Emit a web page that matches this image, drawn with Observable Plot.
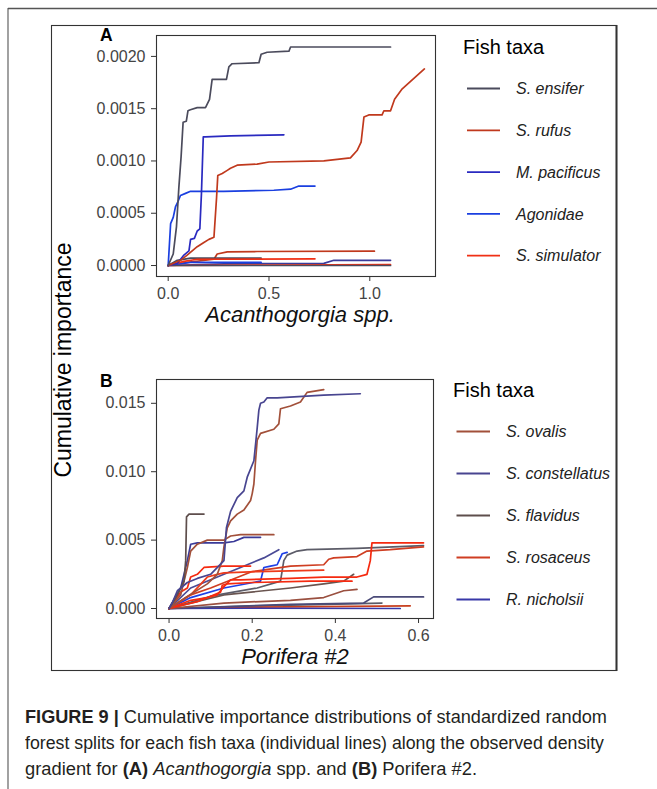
<!DOCTYPE html>
<html><head><meta charset="utf-8">
<script src="https://cdn.jsdelivr.net/npm/d3@7"></script>
<script src="https://cdn.jsdelivr.net/npm/@observablehq/plot@0.6"></script>
<style>
body{margin:0;background:#fff;}
#wrap{position:relative;width:657px;height:789px;overflow:hidden;background:#fff;font-family:"Liberation Sans",Arial,sans-serif;}
.panel{position:absolute;left:0;width:450px;}
#overlay{position:absolute;left:0;top:0;}
.capline{position:absolute;left:25px;white-space:nowrap;font-family:"Liberation Sans",Arial,sans-serif;font-size:17.5px;line-height:20px;color:#231f20;transform-origin:0 0;}
</style></head><body>
<div id="wrap"><div id="pa" class="panel" style="top:25px"></div><div id="pb" class="panel" style="top:360px"></div><svg id="overlay" width="657" height="789"></svg>
<div id="cap1" class="capline" style="top:707px"><b>FIGURE 9 | </b>Cumulative importance distributions of standardized random</div>
<div id="cap2" class="capline" style="top:733px">forest splits for each fish taxa (individual lines) along the observed density</div>
<div id="cap3" class="capline" style="top:759px">gradient for <b>(A)</b> <i>Acanthogorgia</i> spp. and <b>(B)</b> Porifera #2.</div>
</div>
<script>
// ---------- Panel A data: [Acanthogorgia density, cumulative importance] ----------
const A_ensifer = [[0,0],[0.025,0.00011],[0.041,0.00037],[0.053,0.00075],[0.064,0.00104],[0.074,0.00137],[0.09,0.00138],[0.098,0.00148],[0.11,0.00149],[0.144,0.00151],[0.185,0.00151],[0.205,0.00159],[0.218,0.00178],[0.289,0.00178],[0.301,0.0019],[0.317,0.00193],[0.45,0.00194],[0.461,0.00202],[0.491,0.00204],[0.599,0.00205],[0.607,0.00209],[1.103,0.00209]];
const A_rufus = [[0,0],[0.061,0.00005],[0.094,0.0001],[0.144,0.00018],[0.177,0.00022],[0.202,0.00025],[0.227,0.00027],[0.24,0.00065],[0.246,0.00086],[0.268,0.00088],[0.293,0.00091],[0.309,0.00093],[0.342,0.00096],[0.441,0.00097],[0.5,0.00099],[0.772,0.001],[0.904,0.00103],[0.937,0.0011],[0.957,0.00118],[0.971,0.00142],[0.995,0.00144],[1.061,0.00144],[1.07,0.00148],[1.103,0.00148],[1.123,0.00159],[1.161,0.00169],[1.271,0.00188]];
const A_pacificus = [[0,0],[0.045,0.00002],[0.078,0.0001],[0.103,0.00014],[0.111,0.00025],[0.13,0.00026],[0.144,0.00033],[0.157,0.00035],[0.165,0.00069],[0.174,0.00123],[0.185,0.00123],[0.309,0.00124],[0.574,0.00125]];
const A_agonidae = [[0,0],[0.012,0.0004],[0.025,0.00046],[0.036,0.00056],[0.048,0.00061],[0.061,0.00067],[0.086,0.00069],[0.111,0.00071],[0.276,0.00071],[0.524,0.00072],[0.607,0.00073],[0.648,0.00076],[0.728,0.00076]];
const A_simulator = [[0,0],[0.078,0.00004],[0.144,0.00006],[0.728,0.000064]];
const A_other1 = [[0,0],[0.094,0.00003],[0.227,0.00006],[0.243,0.00011],[0.293,0.00013],[0.441,0.000134],[1.023,0.000137]];
const A_other2 = [[0,0],[0.045,0.00005],[0.111,0.00007],[0.461,0.00007]];
const A_other3 = [[0,0],[0.276,0.000016],[0.772,0.00002],[0.822,0.00005],[1.103,0.00005]];
const A_other4 = [[0,0],[0.5,0.000005],[1.103,0.00001]];
const A_other5 = [[0,0],[0.111,0.00003],[0.461,0.00003]];
const A_other6 = [[0,0],[1.103,0]];

const A_legendNames = ["S. ensifer","S. rufus","M. pacificus","Agonidae","S. simulator"];
const A_legendColors = ["#4b4b5c","#c0391d","#2a2ac0","#1a3fe0","#f03015"];
const A_otherIds = ["a6","a7","a8","a9","a10","a11"];
const A_otherColors = ["#c0391d","#4b4b5c","#3a3a9a","#f03015","#1a3fe0","#4b4b5c"];

// ---------- Panel B data: [Porifera #2 density, cumulative importance] ----------
const B_ovalis = [[0,0],[0.04,0.0008],[0.092,0.0018],[0.116,0.0025],[0.128,0.0035],[0.132,0.0045],[0.14,0.0059],[0.148,0.0064],[0.164,0.0069],[0.18,0.0072],[0.196,0.0079],[0.2,0.0084],[0.204,0.0091],[0.208,0.0108],[0.212,0.0123],[0.22,0.0128],[0.252,0.0131],[0.264,0.0135],[0.268,0.0146],[0.292,0.0148],[0.316,0.0151],[0.332,0.0158],[0.372,0.016]];
const B_constellatus = [[0,0],[0.008,0.00044],[0.02,0.0013],[0.044,0.0019],[0.068,0.0022],[0.1,0.0025],[0.132,0.0035],[0.138,0.0059],[0.148,0.0071],[0.164,0.0081],[0.18,0.0086],[0.188,0.0096],[0.204,0.0108],[0.212,0.0132],[0.216,0.0145],[0.22,0.015],[0.228,0.0151],[0.236,0.0154],[0.26,0.0154],[0.372,0.0156],[0.46,0.0157]];
const B_flavidus = [[0,0],[0.012,0.0006],[0.02,0.001],[0.028,0.0015],[0.036,0.002],[0.04,0.0035],[0.042,0.0067],[0.048,0.0069],[0.084,0.0069]];
const B_rosaceus = [[0,0],[0.052,0.001],[0.1,0.0015],[0.2,0.0027],[0.292,0.0031],[0.372,0.0032],[0.384,0.0036],[0.396,0.0037],[0.452,0.0038],[0.476,0.0042],[0.532,0.0043],[0.612,0.0045]];
const B_nicholsii = [[0,0],[0.2,0.00002],[0.556,0]];
const B_other1 = [[0,0],[0.028,0.0015],[0.044,0.0035],[0.052,0.0047],[0.068,0.0048],[0.132,0.0048],[0.156,0.0049],[0.18,0.0052],[0.22,0.0052]];
const B_other2 = [[0,0],[0.028,0.001],[0.044,0.003],[0.052,0.0042],[0.068,0.0047],[0.092,0.005],[0.132,0.005],[0.148,0.0053],[0.172,0.0054],[0.252,0.0054]];
const B_other3 = [[0,0],[0.1,0.0009],[0.212,0.0015],[0.268,0.002],[0.276,0.0035],[0.284,0.0039],[0.308,0.0042],[0.332,0.0043],[0.452,0.0044],[0.612,0.0046]];
const B_other4 = [[0,0],[0.052,0.0006],[0.092,0.0008],[0.116,0.001],[0.132,0.0016],[0.148,0.0021],[0.172,0.0021],[0.292,0.0022],[0.372,0.0023],[0.452,0.0023],[0.476,0.0025],[0.484,0.0035],[0.488,0.0048],[0.612,0.0048]];
const B_other5 = [[0,0],[0.052,0.0008],[0.132,0.0015],[0.22,0.002],[0.228,0.003],[0.244,0.0031],[0.26,0.0032],[0.272,0.004],[0.284,0.0041]];
const B_other6 = [[0,0],[0.052,0.0015],[0.132,0.0025],[0.172,0.003],[0.228,0.0037],[0.264,0.0043]];
const B_other7 = [[0,0],[0.028,0.0012],[0.044,0.0015],[0.052,0.0023],[0.068,0.0025],[0.084,0.003],[0.132,0.0031],[0.196,0.0031]];
const B_other8 = [[0,0],[0.052,0.001],[0.092,0.0023],[0.116,0.0025],[0.132,0.0026],[0.212,0.0027],[0.372,0.0028]];
const B_other9 = [[0,0],[0.132,0.001],[0.292,0.0015],[0.372,0.0018],[0.42,0.002],[0.444,0.0025]];
const B_other10 = [[0,0],[0.132,0.0004],[0.292,0.0006],[0.372,0.0008],[0.42,0.0013],[0.452,0.0014]];
const B_other11 = [[0,0],[0.292,0.0003],[0.468,0.0004],[0.492,0.00085],[0.612,0.00085]];
const B_other12 = [[0,0],[0.212,0.0002],[0.512,0.0004]];
const B_other13 = [[0,0],[0.212,0.0001],[0.58,0.0002]];
const B_other14 = [[0,0],[0.068,0.0005],[0.1,0.0009],[0.124,0.0012],[0.128,0.0017],[0.14,0.0018],[0.2,0.0019],[0.34,0.002],[0.44,0.002]];

const B_legendNames = ["S. ovalis","S. constellatus","S. flavidus","S. rosaceus","R. nicholsii"];
const B_legendColors = ["#a2503a","#484590","#5e4e4c","#cf3e22","#3838a8"];
const B_otherIds = ["b6","b7","b8","b9","b10","b11","b12","b13","b14","b15","b16","b17","b18","b19"];
const B_otherColors = ["#3a3a98","#a2503a","#5c5c68","#f52a10","#1e40e6","#4a4a95","#f52a10","#ee3a1a","#6a5550","#9a5040","#4a4a78","#5c5c68","#c8401e","#f52a10"];

// ---------- Axis ticks ----------
const A_xTicks = [0, 0.5, 1.0];
const A_yTicks = [0, 0.0005, 0.001, 0.0015, 0.002];
const B_xTicks = [0, 0.2, 0.4, 0.6];
const B_yTicks = [0, 0.005, 0.010, 0.015];

const FONT = "'Liberation Sans', Arial, sans-serif";

function toRows(pairs) {
  return pairs.flatMap(([id, pts]) => pts.map(([x, y]) => ({id, x, y})));
}

const aSeries = [[A_otherIds[0],A_other1],[A_otherIds[1],A_other2],[A_otherIds[2],A_other3],[A_otherIds[3],A_other4],[A_otherIds[4],A_other5],[A_otherIds[5],A_other6],
  [A_legendNames[4],A_simulator],[A_legendNames[3],A_agonidae],[A_legendNames[2],A_pacificus],[A_legendNames[1],A_rufus],[A_legendNames[0],A_ensifer]];
const bSeries = [[B_otherIds[11],B_other12],[B_otherIds[12],B_other13],[B_legendNames[4],B_nicholsii],[B_otherIds[10],B_other11],[B_otherIds[9],B_other10],[B_otherIds[8],B_other9],
  [B_otherIds[2],B_other3],[B_legendNames[3],B_rosaceus],[B_otherIds[5],B_other6],[B_otherIds[4],B_other5],[B_otherIds[7],B_other8],[B_otherIds[13],B_other14],[B_otherIds[6],B_other7],[B_otherIds[3],B_other4],
  [B_otherIds[0],B_other1],[B_otherIds[1],B_other2],[B_legendNames[2],B_flavidus],[B_legendNames[0],B_ovalis],[B_legendNames[1],B_constellatus]];

function panel({rows, ids, colors, xDomain, yDomain, xTicks, yTicks, xFmt, yFmt, title, titleDx, titleDy, marginTop, marginRight, marginBottom}) {
  return Plot.plot({
    width: 450, height: 320,
    marginLeft: 156, marginRight, marginTop, marginBottom,
    style: {fontFamily: FONT, fontSize: "16px", color: "#444", background: "transparent"},
    x: {domain: xDomain, label: null},
    y: {domain: yDomain, label: null},
    color: {domain: ids, range: colors},
    marks: [
      Plot.line(rows, {x: "x", y: "y", z: "id", stroke: "id", strokeWidth: 1.7, curve: "linear"}),
      Plot.frame({stroke: "#333", strokeWidth: 1.1}),
      Plot.axisX({ticks: xTicks, tickFormat: d3.format(xFmt), tickSize: 5, tickPadding: 6, fontSize: 16, stroke: "#333", fill: "#444", label: null}),
      Plot.axisY({ticks: yTicks, tickFormat: d3.format(yFmt), tickSize: 5, tickPadding: 6, fontSize: 16, stroke: "#333", fill: "#444", label: null}),
      Plot.text([title], {text: d => d, frameAnchor: "bottom", dx: titleDx, dy: titleDy, fontSize: 22, fontStyle: "italic", fill: "#111"})
    ]
  });
}

document.getElementById("pa").append(panel({
  rows: toRows(aSeries), ids: [...A_legendNames, ...A_otherIds], colors: [...A_legendColors, ...A_otherColors],
  xDomain: [-0.058, 1.326], yDomain: [-0.000105, 0.0022], xTicks: A_xTicks, yTicks: A_yTicks, xFmt: ".1f", yFmt: ".4f",
  title: "Acanthogorgia spp.", titleDx: 4, titleDy: 45, marginTop: 10, marginRight: 15, marginBottom: 69
}));
document.getElementById("pb").append(panel({
  rows: toRows(bSeries), ids: [...B_legendNames, ...B_otherIds], colors: [...B_legendColors, ...B_otherColors],
  xDomain: [-0.0302, 0.636], yDomain: [-0.00073, 0.01674], xTicks: B_xTicks, yTicks: B_yTicks, xFmt: ".1f", yFmt: ".3f",
  title: "Porifera #2", titleDx: 0, titleDy: 45, marginTop: 19, marginRight: 17, marginBottom: 62
}));

// ---------- Overlay: frames, labels, legends ----------
const svg = d3.select("#overlay");
svg.append("line").attr("x1", 8).attr("y1", 8.5).attr("x2", 657).attr("y2", 8.5).attr("stroke", "#555").attr("stroke-width", 1.3);
svg.append("line").attr("x1", 8).attr("y1", 8).attr("x2", 8).attr("y2", 789).attr("stroke", "#555").attr("stroke-width", 1.1);
svg.append("rect").attr("x", 51.5).attr("y", 25.5).attr("width", 565).attr("height", 645).attr("fill", "none").attr("stroke", "#333").attr("stroke-width", 1.1);
svg.append("line").attr("x1", 616.5).attr("y1", 25).attr("x2", 616.5).attr("y2", 671).attr("stroke", "#333").attr("stroke-width", 2);

svg.append("text").attr("x", 100).attr("y", 40.5).attr("font-family", FONT).attr("font-weight", "bold").attr("font-size", 17.5).attr("fill", "#000").text("A");
svg.append("text").attr("x", 100).attr("y", 387).attr("font-family", FONT).attr("font-weight", "bold").attr("font-size", 17.5).attr("fill", "#000").text("B");

svg.append("text").attr("transform", "translate(71,360) rotate(-90)").attr("text-anchor", "middle")
  .attr("font-family", FONT).attr("font-size", 23).attr("fill", "#000").text("Cumulative importance");

function legend(x0, titleY, names, colors, y0, step, sx1, sx2, tx) {
  svg.append("text").attr("x", x0).attr("y", titleY).attr("font-family", FONT).attr("font-size", 20).attr("fill", "#000").text("Fish taxa");
  names.forEach((n, i) => {
    const y = y0 + i * step;
    svg.append("line").attr("x1", sx1).attr("x2", sx2).attr("y1", y).attr("y2", y).attr("stroke", colors[i]).attr("stroke-width", 1.8);
    svg.append("text").attr("x", tx).attr("y", y).attr("dy", "0.35em").attr("font-family", FONT).attr("font-style", "italic")
      .attr("font-size", 16).attr("fill", "#222").text(n);
  });
}
legend(463, 53.5, A_legendNames, A_legendColors, 88.5, 41.8, 467, 500, 516);
legend(453, 397, B_legendNames, B_legendColors, 431.5, 42, 456.5, 490, 506);

// ---------- Caption: condensed to the reference line widths ----------
const capWidths = {cap1: 582, cap2: 579, cap3: 452};
Object.entries(capWidths).forEach(([id, w]) => {
  const el = document.getElementById(id);
  const natural = el.getBoundingClientRect().width;
  el.style.transform = `scaleX(${w / natural})`;
});
</script>
</body></html>
